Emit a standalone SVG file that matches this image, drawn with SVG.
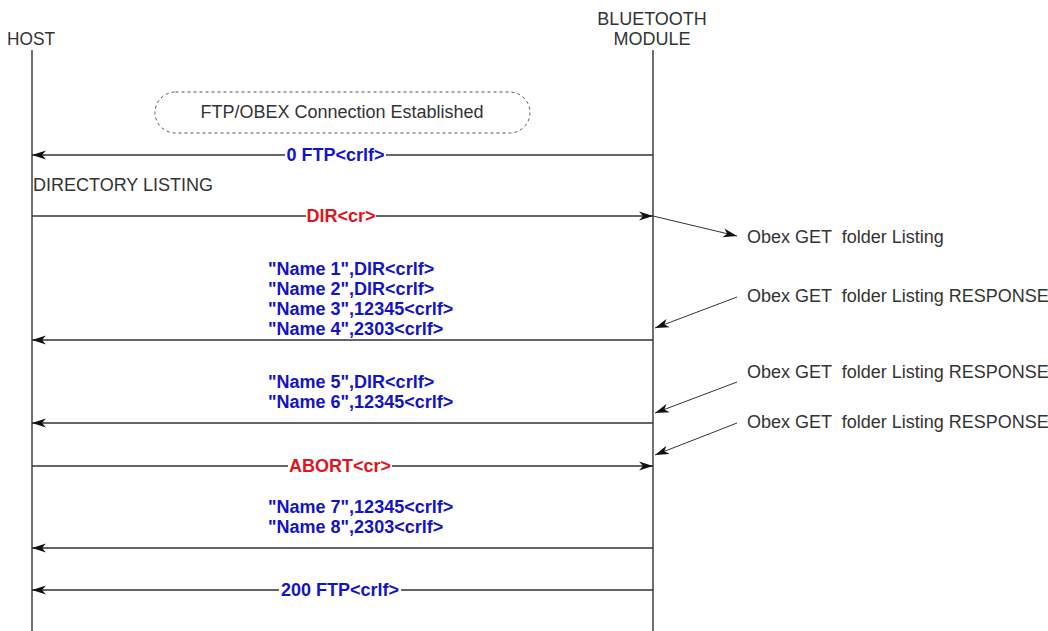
<svg xmlns="http://www.w3.org/2000/svg" width="1048" height="631" viewBox="0 0 1048 631">
<defs>
<style>
.t{font-family:"Liberation Sans",Arial,sans-serif;font-size:18px;fill:#333}
.b{font-family:"Liberation Sans",Arial,sans-serif;font-size:18px;font-weight:bold;fill:#1414c4}
.r{font-family:"Liberation Sans",Arial,sans-serif;font-size:18px;font-weight:bold;fill:#e0141e}
.life{stroke:#222;stroke-width:1.3;fill:none}
.msg{stroke:#333;stroke-width:1.3;fill:none;marker-end:url(#ah)}
.note{stroke:#333;stroke-width:1;fill:none;marker-end:url(#ah)}
.bg{fill:#fff}
</style>
<marker id="ah" markerUnits="userSpaceOnUse" markerWidth="16" markerHeight="10" viewBox="-14 -5 16 10" refX="0" refY="0" orient="auto">
<path d="M0,0 L-14,-4.5 L-10,0 L-14,4.5 Z" fill="#111"/>
</marker>
</defs>

<g id="host">
<text class="t" x="7" y="45" textLength="48" lengthAdjust="spacingAndGlyphs">HOST</text>
<line class="life" x1="32" y1="50" x2="32" y2="631"/>
</g>

<g id="bluetooth-module">
<text class="t" x="652" y="25" text-anchor="middle">BLUETOOTH</text>
<text class="t" x="652" y="45" text-anchor="middle">MODULE</text>
<line class="life" x1="653" y1="50" x2="653" y2="631"/>
</g>

<g id="connection-note">
<rect x="155" y="92" width="375" height="41" rx="20.5" ry="20.5" fill="none" stroke="#555" stroke-width="1" stroke-dasharray="3,3"/>
<text class="t" x="342" y="118" text-anchor="middle">FTP/OBEX Connection Established</text>
</g>

<g id="directory-listing-label">
<text class="t" x="33" y="191">DIRECTORY LISTING</text>
</g>

<g id="obex-notes">
<text class="t" x="747" y="243" xml:space="preserve">Obex GET  folder Listing</text>
<text class="t" x="747" y="302" xml:space="preserve">Obex GET  folder Listing RESPONSE</text>
<text class="t" x="747" y="378" xml:space="preserve">Obex GET  folder Listing RESPONSE</text>
<text class="t" x="747" y="428" xml:space="preserve">Obex GET  folder Listing RESPONSE</text>
</g>

<g id="connectors">
<line class="msg" x1="653" y1="155" x2="32" y2="155"/>
<line class="msg" x1="32" y1="216" x2="653" y2="216"/>
<line class="note" x1="653" y1="216" x2="737" y2="236"/>
<line class="note" x1="737" y1="297" x2="655" y2="328"/>
<line class="msg" x1="653" y1="340" x2="32" y2="340"/>
<line class="note" x1="737" y1="382" x2="655" y2="413"/>
<line class="msg" x1="653" y1="423" x2="32" y2="423"/>
<line class="note" x1="737" y1="423" x2="655" y2="455"/>
<line class="msg" x1="32" y1="466" x2="653" y2="466"/>
<line class="msg" x1="653" y1="548" x2="32" y2="548"/>
<line class="msg" x1="653" y1="590" x2="32" y2="590"/>
</g>

<g id="msg-0ftp">
<rect class="bg" x="285" y="145" width="101" height="20"/>
<text class="b" x="335.5" y="161" text-anchor="middle">0 FTP&lt;crlf&gt;</text>
</g>

<g id="msg-dir">
<rect class="bg" x="306" y="206" width="70" height="20"/>
<text class="r" x="341" y="222" text-anchor="middle">DIR&lt;cr&gt;</text>
</g>

<g id="msg-list1">
<text class="b" x="268" y="275">"Name 1",DIR&lt;crlf&gt;</text>
<text class="b" x="268" y="295">"Name 2",DIR&lt;crlf&gt;</text>
<text class="b" x="268" y="315">"Name 3",12345&lt;crlf&gt;</text>
<text class="b" x="268" y="335">"Name 4",2303&lt;crlf&gt;</text>
</g>

<g id="msg-list2">
<text class="b" x="268" y="388">"Name 5",DIR&lt;crlf&gt;</text>
<text class="b" x="268" y="408">"Name 6",12345&lt;crlf&gt;</text>
</g>

<g id="msg-abort">
<rect class="bg" x="288" y="456" width="104" height="20"/>
<text class="r" x="340" y="472" text-anchor="middle">ABORT&lt;cr&gt;</text>
</g>

<g id="msg-list3">
<text class="b" x="268" y="513">"Name 7",12345&lt;crlf&gt;</text>
<text class="b" x="268" y="533">"Name 8",2303&lt;crlf&gt;</text>
</g>

<g id="msg-200ftp">
<rect class="bg" x="279" y="580" width="122" height="20"/>
<text class="b" x="340" y="596" text-anchor="middle">200 FTP&lt;crlf&gt;</text>
</g>
</svg>
